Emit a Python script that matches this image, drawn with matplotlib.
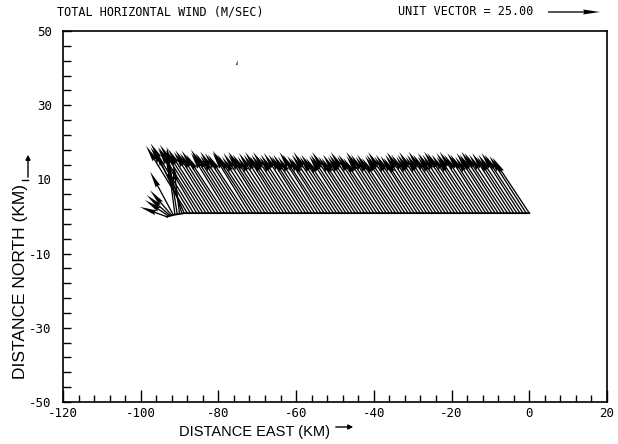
import numpy as np
import matplotlib
matplotlib.use("Agg")
import matplotlib.pyplot as plt
from matplotlib.lines import Line2D

plt.rcParams['axes.unicode_minus'] = False

# wind vectors (m/s) along the flight track, main leg
gate_x = np.linspace(-88, 0, 111)   # km east, gate positions
track_y = 0.9                       # km north
wind_u = [-19.9, -19.2, -20.7, -18.5, -19.9, -20.7, -19.2, -19.9, -18.5, -19.2,
          -18.5, -19.2, -18.5, -17.7, -19.2, -18.5, -17.7, -19.2, -18.5, -18.5,
          -17.7, -19.2, -18.5, -17.7, -18.5, -17.7, -19.2, -18.5, -17.7, -18.5,
          -17.7, -18.5, -17.7, -18.5, -19.2, -17.7, -18.5, -18.5, -17.7, -17.7,
          -18.5, -17.7, -18.5, -18.5, -17.7, -17.7, -18.5, -19.2, -17.7, -18.5,
          -17.7, -17.7, -18.5, -19.2, -17.7, -17.7, -18.5, -17.7, -18.5, -19.2,
          -17.7, -18.5, -17.7, -17.7, -19.2, -18.5, -17.7, -18.5, -17.7, -17.7,
          -18.5, -19.2, -17.7, -18.5, -17.7, -17.7, -18.5, -19.2, -18.5, -17.7,
          -18.5, -19.2, -17.7, -18.5, -19.2, -18.5, -17.7, -19.2, -18.5, -19.2,
          -19.2, -18.5, -17.7, -19.2, -19.2, -18.5, -18.5, -18.5, -17.7, -18.5,
          -18.5, -19.2, -19.2, -18.5, -18.5, -17.7, -18.5, -18.5, -18.5, -17.7, -17.7]
wind_v = [34.0, 33.2, 35.2, 32.5, 33.2, 34.5, 31.7, 32.5, 31.0, 31.7,
          30.3, 31.5, 29.5, 30.3, 32.0, 30.3, 29.0, 31.0, 30.3, 29.5,
          30.3, 31.5, 29.5, 28.5, 30.3, 29.5, 31.0, 29.5, 28.5, 30.3,
          29.5, 30.8, 28.5, 29.5, 30.8, 28.5, 29.5, 30.3, 29.5, 28.5,
          29.5, 28.5, 30.8, 29.5, 28.8, 27.8, 29.5, 30.8, 28.5, 29.5,
          27.8, 28.8, 29.5, 30.8, 28.5, 27.8, 29.5, 28.5, 29.5, 30.8,
          28.8, 29.5, 27.8, 28.8, 30.8, 29.5, 28.5, 29.5, 27.8, 28.8,
          29.5, 30.8, 28.5, 29.5, 28.8, 27.8, 29.5, 30.8, 29.5, 28.5,
          29.5, 30.8, 28.5, 29.5, 31.0, 29.5, 28.5, 30.3, 29.5, 31.0,
          30.3, 29.5, 28.5, 30.3, 31.0, 29.5, 30.3, 29.5, 28.5, 30.3,
          29.5, 31.0, 30.3, 29.5, 30.3, 28.5, 29.5, 30.3, 29.5, 28.8, 28.0]

# turn at the west end of the leg
fan_x = [-93.2, -92.8, -92.4, -92.0, -91.6, -91.2, -90.6, -90.0, -89.4, -88.8]
fan_y = [-0.1, 0.1, 0.2, 0.3, 0.4, 0.5, 0.6, 0.7, 0.8, 0.9]
fan_u = [-13.1, -11.4, -11.4, -10.5, -11.2, -3.2, -5.0, -3.0, -8.0, -14.0]
fan_v = [5.0, 8.1, 10.5, 12.7, 21.9, 26.7, 34.0, 25.4, 30.0, 32.0]

# lone weak vector up north
stray_x = [-75.3]
stray_y = [40.8]
stray_u = [0.5]
stray_v = [2.5]

unit_speed = 25.0
km_per_ms = 0.535

fig = plt.figure(figsize=(6.18, 4.44), dpi=100)
ax = fig.add_axes([0.1019, 0.0946, 0.8803, 0.8356])

all_x = np.concatenate([fan_x, gate_x])
all_y = np.concatenate([fan_y, np.full(len(gate_x), track_y)])
all_u = np.concatenate([fan_u, wind_u])
all_v = np.concatenate([fan_v, wind_v])

ax.plot(all_x, all_y, color='black', lw=1.3, zorder=1)
qkw = dict(angles='xy', scale_units='xy', scale=1 / km_per_ms, color='black',
           units='width', width=0.0024, headwidth=3.8, headlength=13,
           headaxislength=12, zorder=2)
Q = ax.quiver(all_x, all_y, all_u, all_v, **qkw)
ax.quiver(stray_x, stray_y, stray_u, stray_v, **qkw)

ax.quiverkey(Q, 0.8867, 0.973, unit_speed, 'UNIT VECTOR = %.2f' % unit_speed,
             labelpos='W', coordinates='figure', labelsep=0.15,
             fontproperties=dict(family='DejaVu Sans Mono', size=8.5))

ax.set_xlim(-120, 20)
ax.set_ylim(-50, 50)
ax.set_xticks(np.arange(-120, 21, 20))
ax.set_xticks(np.arange(-120, 21, 4), minor=True)
ax.set_yticks(np.arange(-50, 51, 20))
ax.set_yticks(np.arange(-50, 51, 4), minor=True)
ax.tick_params(axis='x', which='major', direction='in', length=9, width=1, pad=3.5)
ax.tick_params(axis='x', which='minor', direction='in', length=5, width=1)
ax.tick_params(axis='y', which='both', direction='in', length=6, width=1, pad=8)
for lab in ax.get_xticklabels() + ax.get_yticklabels():
    lab.set_fontfamily('DejaVu Sans Mono')
    lab.set_fontsize(9)
for s in ax.spines.values():
    s.set_linewidth(1.2)

fig.text(0.092, 0.973, 'TOTAL HORIZONTAL WIND (M/SEC)', ha='left', va='center',
         fontsize=8.5, family='DejaVu Sans Mono')

fig.text(0.4126, 0.027, 'DISTANCE EAST (KM)', ha='center', va='center',
         fontsize=10.5, family='Liberation Sans')
ax.annotate('', xy=(356, 17), xytext=(333, 17), xycoords='figure pixels',
            arrowprops=dict(arrowstyle='-|>', lw=1, color='black', mutation_scale=7))

fig.text(0.033, 0.365, 'DISTANCE NORTH (KM)', ha='center', va='center',
         rotation=90, fontsize=12.5, family='Liberation Sans')
ax.annotate('', xy=(28, 444 - 152), xytext=(28, 444 - 180), xycoords='figure pixels',
            arrowprops=dict(arrowstyle='-|>', lw=1, color='black', mutation_scale=7))
fig.add_artist(Line2D([22 / 618, 28 / 618], [1 - 180 / 444, 1 - 180 / 444],
                      color='black', lw=1))

fig.savefig('out.png', dpi=100)
